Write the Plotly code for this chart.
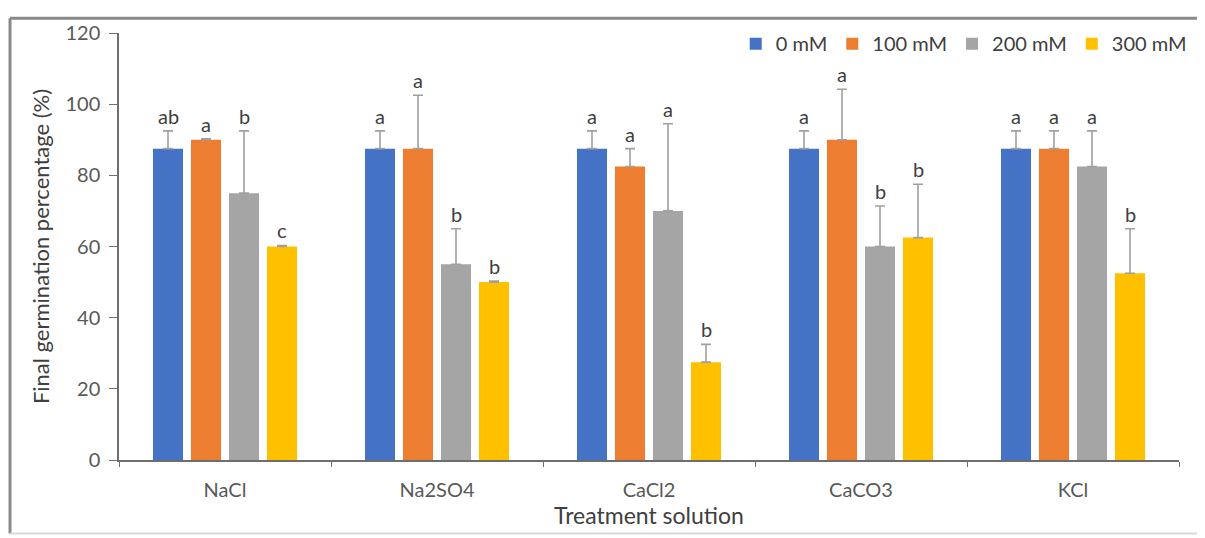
import plotly.graph_objects as go

categories = ["NaCl", "Na2SO4", "CaCl2", "CaCO3", "KCl"]
series_names = ["0 mM", "100 mM", "200 mM", "300 mM"]
colors = ["#4472C4", "#ED7D31", "#A5A5A5", "#FFC000"]

vals_0 = [87.5, 87.5, 87.5, 87.5, 87.5]
vals_100 = [90.0, 87.5, 82.5, 90.0, 87.5]
vals_200 = [75.0, 55.0, 70.0, 60.0, 82.5]
vals_300 = [60.0, 50.0, 27.5, 62.5, 52.5]

err_0 = [5.0, 5.0, 5.0, 5.0, 5.0]
err_100 = [0.3, 15.0, 5.0, 14.2, 5.0]
err_200 = [17.5, 10.0, 24.5, 11.4, 10.0]
err_300 = [0.3, 0.3, 5.0, 15.0, 12.5]

letters_0 = ["ab", "a", "a", "a", "a"]
letters_100 = ["a", "a", "a", "a", "a"]
letters_200 = ["b", "b", "a", "b", "a"]
letters_300 = ["c", "b", "b", "b", "b"]

values = [vals_0, vals_100, vals_200, vals_300]
errors = [err_0, err_100, err_200, err_300]
letters = [letters_0, letters_100, letters_200, letters_300]

BARGAP = 0.283
BARGROUPGAP = 0.21
FONT = "Lato, 'Open Sans', sans-serif"

fig = go.Figure()
for name, col, v, e in zip(series_names, colors, values, errors):
    fig.add_trace(go.Bar(
        name=name, x=categories, y=v, marker_color=col,
        marker_line_width=0,
        error_y=dict(type="data", array=e, arrayminus=[0]*len(e), symmetric=False,
                     color="#A0A0A0", thickness=1.6, width=5),
    ))

n = len(series_names)
slot = (1 - BARGAP) / n
for j in range(n):
    for i, cat in enumerate(categories):
        fig.add_annotation(
            x=i + (j - (n - 1) / 2) * slot, y=values[j][i] + errors[j][i],
            text=letters[j][i], showarrow=False, yanchor="bottom", yshift=1,
            font=dict(family=FONT, size=20, color="#404040"),
        )

# outer frame (page body is offset by 8px, so frame is kept just inside the figure)
L, R, T, B = -0.1028, 1.0198, 1.0344, -0.172
fig.add_shape(type="line", xref="paper", yref="paper", x0=L, x1=R, y0=T, y1=T,
              line=dict(color="#8a8a8a", width=3))
fig.add_shape(type="line", xref="paper", yref="paper", x0=L, x1=L, y0=B, y1=T,
              line=dict(color="#8a8a8a", width=3))
fig.add_shape(type="line", xref="paper", yref="paper", x0=R, x1=R, y0=B, y1=T,
              line=dict(color="#d9d9d9", width=1.5))
fig.add_shape(type="line", xref="paper", yref="paper", x0=L, x1=R, y0=B, y1=B,
              line=dict(color="#d9d9d9", width=2))

fig.update_layout(
    width=1197, height=530,
    margin=dict(l=111, r=26, t=16, b=78),
    paper_bgcolor="white", plot_bgcolor="white",
    barmode="group", bargap=BARGAP, bargroupgap=BARGROUPGAP,
    font=dict(family=FONT, size=20, color="#595959"),
    legend=dict(orientation="h", x=1.012, xanchor="right", y=0.975, yanchor="middle",
                font=dict(family=FONT, size=20, color="#404040"), bgcolor="rgba(0,0,0,0)",
                itemwidth=30, traceorder="normal"),
    xaxis=dict(
        title=dict(text="Treatment solution", font=dict(size=23, color="#404040"), standoff=5),
        showline=True, linecolor="#6e6e6e", linewidth=1.5,
        ticks="outside", tickson="boundaries", ticklen=5, tickcolor="#6e6e6e",
        tickfont=dict(size=20, color="#595959"), ticklabelstandoff=11, showgrid=False,
    ),
    yaxis=dict(
        title=dict(text="Final germination percentage (%)", font=dict(size=22, color="#404040"), standoff=10),
        range=[0, 120], dtick=20, showline=True, linecolor="#6e6e6e", linewidth=1.5,
        ticks="outside", ticklen=8, tickcolor="#6e6e6e",
        tickfont=dict(size=20, color="#595959"), ticklabelstandoff=5, showgrid=False, zeroline=False,
    ),
)

fig.write_html("out.html")
